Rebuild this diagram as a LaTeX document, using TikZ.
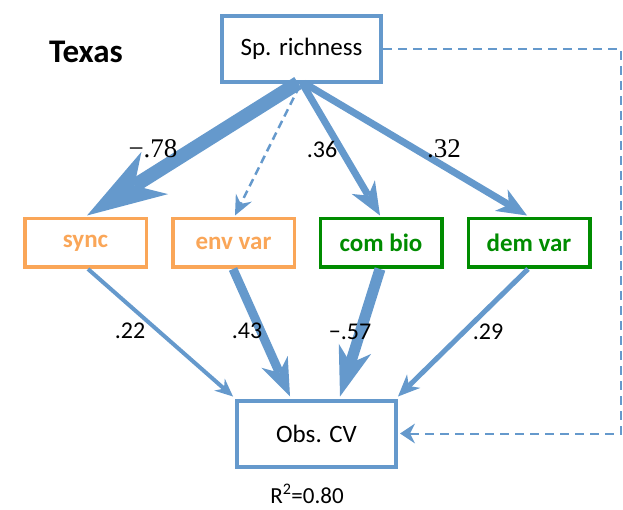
\documentclass[tikz,border=0pt]{standalone}
\usepackage{fontspec}
\setmainfont{Carlito}
\newfontfamily\serifnum{Liberation Serif}
\usetikzlibrary{arrows.meta}

\definecolor{pathblue}{RGB}{101,153,204}
\definecolor{boxorange}{RGB}{250,166,88}
\definecolor{boxgreen}{RGB}{0,140,0}

\tikzset{
  mainbox/.style={draw=pathblue, line width=4pt, fill=white,
    minimum width=159pt, minimum height=66pt, inner sep=0pt,
    font=\fontsize{25}{28}\selectfont},
  varbox/.style={line width=3.5pt, fill=white,
    minimum width=121.5pt, minimum height=48.5pt, inner sep=0pt,
    font=\fontsize{25}{28}\selectfont\bfseries},
  orangebox/.style={varbox, draw=boxorange, text=boxorange},
  greenbox/.style={varbox, draw=boxgreen, text=boxgreen},
  link/.style={draw=pathblue, line width=#1},
  coef/.style={font=\fontsize{24}{26}\selectfont, inner sep=0pt},
  coefserif/.style={font=\serifnum\fontsize{27}{29}\selectfont, inner sep=0pt},
  dashlink/.style={draw=pathblue, line width=2pt, dash pattern=on 9pt off 6pt},
}

\begin{document}
\begin{tikzpicture}[x=1pt, y=-1pt]
\useasboundingbox (0,0) rectangle (623,510);

% nodes
\node[font=\fontsize{33}{36}\selectfont\bfseries] (title) at (86,52) {Texas};
\node[mainbox] (sp) at (301.5,49) {Sp. richness};
\node[orangebox] (sync) at (85.5,243) {sync};
\node[orangebox] (env) at (233.5,243) {env var};
\node[greenbox] (com) at (381,243) {com bio};
\node[greenbox] (dem) at (529,243) {dem var};
\node[mainbox] (obs) at (316.5,433.5) {Obs. CV};
\node[font=\fontsize{23}{25}\selectfont, inner sep=0pt] (r2) at (307,494) {R\textsuperscript{2}=0.80};

% paths from species richness
\draw[link=14pt, -{Stealth[length=80pt,width=50pt,inset=24pt,line width=0pt]}]
  ([xshift=-3.5pt,yshift=1pt]sp.south) -- ([xshift=1.5pt,yshift=1.5pt]sync.north);
\draw[link=2.5pt, dash pattern=on 8pt off 5pt, -{Stealth[length=20pt,width=18pt,inset=7pt,line width=0pt]}]
  ([xshift=-2pt,yshift=-2pt]sp.south) -- ([xshift=1.5pt,yshift=1.5pt]env.north);
\draw[link=7pt, -{Stealth[length=33pt,width=27pt,inset=10pt,line width=0pt]}]
  ([xshift=0.5pt,yshift=1pt]sp.south) -- ([xshift=-1pt,yshift=1.5pt]com.north);
\draw[link=7pt, -{Stealth[length=30pt,width=25pt,inset=9pt,line width=0pt]}]
  ([xshift=2.5pt,yshift=1pt]sp.south) -- ([xshift=-2pt,yshift=1.5pt]dem.north);

% paths into observed CV
\draw[link=4pt, -{Stealth[length=18pt,width=16pt,inset=6pt,line width=0pt]}]
  ([xshift=2.5pt]sync.south) -- ([xshift=-83.5pt,yshift=2pt]obs.north);
\draw[link=9pt, -{Stealth[length=38pt,width=29pt,inset=12pt,line width=0pt]}]
  ([xshift=-0.5pt]env.south) -- ([xshift=-26.5pt,yshift=2pt]obs.north);
\draw[link=11pt, -{Stealth[length=50pt,width=34pt,inset=15pt,line width=0pt]}]
  ([xshift=-1pt]com.south) -- ([xshift=23.5pt,yshift=2pt]obs.north);
\draw[link=5pt, -{Stealth[length=22pt,width=19pt,inset=7pt,line width=0pt]}]
  ([xshift=-1pt]dem.south) -- ([xshift=81.5pt,yshift=2pt]obs.north);

% direct path around the right side
\coordinate (rc) at (621,433.5);
\draw[dashlink, -{Stealth[length=15pt,width=20pt,inset=5pt,line width=0pt]}]
  (sp.east) -| (rc) -- ([xshift=2pt]obs.east);

% path coefficients
\node[coefserif] (c1) at (153,149) {−.78};
\node[coef] (c2) at (322,149) {.36};
\node[coefserif] (c3) at (444,149) {.32};
\node[coef] (c4) at (130,331) {.22};
\node[coef] (c5) at (247,331) {.43};
\node[coef] (c6) at (350,332) {−.57};
\node[coef] (c7) at (488,332) {.29};
\end{tikzpicture}
\end{document}
